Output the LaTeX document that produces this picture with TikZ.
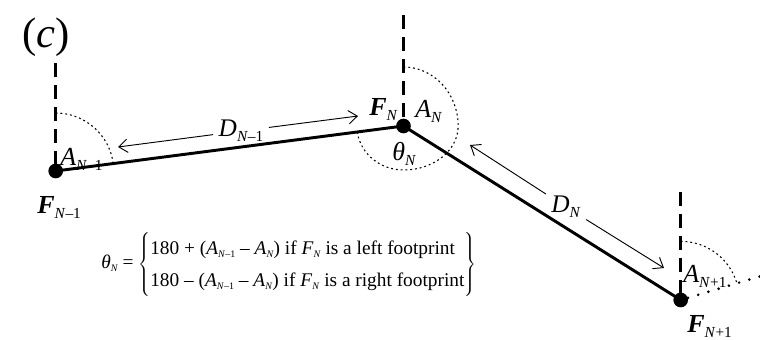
\documentclass[tikz,border=0pt]{standalone}
\usepackage{fontspec}
\setmainfont{Liberation Serif}
\usetikzlibrary{arrows.meta}
\newcommand{\lsub}[1]{\raisebox{-3.8pt}{\fontsize{11.5}{11.5}\selectfont #1}}
\newcommand{\esub}[1]{\raisebox{-2.3pt}{\fontsize{7.5}{7.5}\selectfont #1}}
\begin{document}
\begin{tikzpicture}[x=0.75pt, y=0.75pt,
  dot/.style={circle, fill=black, inner sep=0pt, minimum size=11pt},
  foot/.style={line width=2.2pt},
  vline/.style={line width=1.9pt, dash pattern=on 10.5pt off 6pt},
  ang/.style={line width=0.8pt, dash pattern=on 1.4pt off 2.2pt},
  nxt/.style={line width=2.2pt, line cap=round, dash pattern=on 0pt off 8pt},
  dlen/.style={->, line width=0.7pt, >={Straight Barb[length=6.5pt, width=10pt]}},
  lbl/.style={font=\fontsize{19.5}{19.5}\selectfont, inner sep=0pt, anchor=base west},
  dlbl/.style={font=\fontsize{19}{19}\selectfont, inner sep=4pt}
]
\useasboundingbox (0,0) rectangle (760,-339);

% footprints
\node[dot] (fm1) at (55.7,-171) {};
\node[dot] (fn) at (403.5,-126) {};
\node[dot] (fp1) at (680.7,-300) {};

% north lines
\coordinate (tm1) at (55.7,-63);
\coordinate (tn) at (403.5,-15);
\coordinate (tp1) at (680.7,-192);
\foreach \t/\f in {tm1/fm1, tn/fn, tp1/fp1}
  \draw[vline] (\t) -- (\f.center);

% steps
\draw[foot] (fm1.center) -- (fn.center) -- (fp1.center);
\coordinate (nx) at (760,-276.4);
\draw[nxt] (fp1) -- (nx);

% angles
\draw[ang] ([yshift=43.5pt]fm1.center) arc[start angle=90, end angle=7.5, radius=43.5pt];
\draw[ang] ([yshift=44.25pt]fn.center)
  arc[start angle=90, end angle=0, x radius=41pt, y radius=44.25pt]
  arc[start angle=0, end angle=-90, x radius=41pt, y radius=33pt]
  arc[start angle=-90, end angle=-171.5, x radius=35pt, y radius=33pt];
\draw[ang] ([yshift=44pt]fp1.center) arc[start angle=90, end angle=16.6, radius=44pt];

% labels
\node[lbl, font=\fontsize{32}{32}\selectfont] (tag) at (22,-47) {(\textit{c})};
\node[lbl] (lfm1) at (37,-213) {\textbf{\textit{F}}\lsub{\textit{N}–1}};
\node[lbl] (lam1) at (60,-165) {\textit{A}\lsub{\textit{N}–1}};
\node[lbl] (lfn) at (369,-115) {\textbf{\textit{F}}\lsub{\textit{N}}};
\node[lbl] (lan) at (415,-117) {\textit{A}\lsub{\textit{N}}};
\node[lbl] (lth) at (392,-160) {\textit{θ}\lsub{\textit{N}}};
\node[lbl] (lap1) at (683,-282) {\textit{A}\lsub{\textit{N}+1}};
\node[lbl] (lfp1) at (687,-332) {\textbf{\textit{F}}\lsub{\textit{N}+1}};

% distances
\node[dlbl] (dm1) at (241,-131) {\textit{D}\lsub{\textit{N}–1}};
\coordinate (dm1a) at (118,-147);
\coordinate (dm1b) at (358,-116);
\draw[dlen] (dm1) -- (dm1a);
\draw[dlen] (dm1) -- (dm1b);
\node[dlbl] (dn) at (566,-207) {\textit{D}\lsub{\textit{N}}};
\coordinate (dna) at (470,-145);
\coordinate (dnb) at (664,-268);
\draw[dlen] (dn) -- (dna);
\draw[dlen] (dn) -- (dnb);

% rule
\node[anchor=west, inner sep=0pt, font=\fontsize{14.5}{24}\selectfont] (eq) at (101,-264)
  {\textit{θ}\esub{\textit{N}} = $\left\{\begin{tabular}{@{}l@{}}
  180 + (\textit{A}\esub{\textit{N}–1} – \textit{A}\esub{\textit{N}}) if \textit{F}\esub{\textit{N}} is a left footprint\\
  180 – (\textit{A}\esub{\textit{N}–1} – \textit{A}\esub{\textit{N}}) if \textit{F}\esub{\textit{N}} is a right footprint
  \end{tabular}\right\}$};
\end{tikzpicture}
\end{document}
